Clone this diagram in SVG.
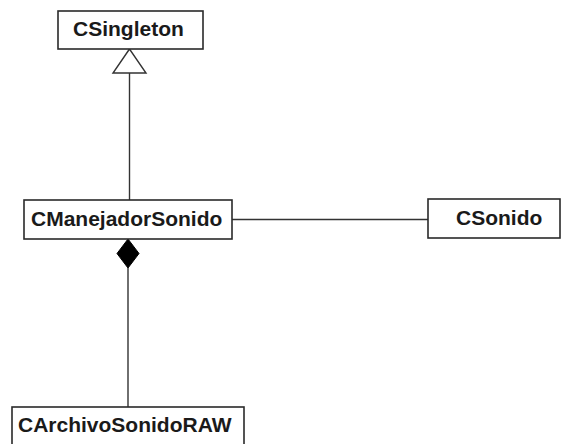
<svg xmlns="http://www.w3.org/2000/svg" width="562" height="444" viewBox="0 0 562 444">
<style>
.box{fill:#fff;stroke:#2a2a2a;stroke-width:1.6}
.lbl{font-family:"Liberation Sans",Arial,sans-serif;font-weight:bold;font-size:21px;fill:#1a1a1a}
.ln{stroke:#333;stroke-width:1.4;fill:none}
</style>
<rect width="562" height="444" fill="#fff"/>
<g id="connectors">
<line class="ln" x1="129.5" y1="73" x2="129.5" y2="200"/>
<polygon points="129.5,49 113,73 146,73" fill="#fff" stroke="#333" stroke-width="1.4"/>
<line class="ln" x1="232" y1="219.5" x2="428" y2="219.5"/>
<line class="ln" x1="128" y1="268" x2="128" y2="407"/>
<polygon points="128,239 117,253.5 128,268 139,253.5" fill="#000" stroke="#000" stroke-width="1"/>
</g>
<g id="CSingleton">
<rect class="box" x="58" y="11" width="145" height="38"/>
<text class="lbl" x="73" y="36">CSingleton</text>
</g>
<g id="CManejadorSonido">
<rect class="box" x="24" y="200" width="208" height="39"/>
<text class="lbl" x="31" y="226">CManejadorSonido</text>
</g>
<g id="CSonido">
<rect class="box" x="428" y="199" width="132" height="39"/>
<text class="lbl" x="456" y="225">CSonido</text>
</g>
<g id="CArchivoSonidoRAW">
<rect class="box" x="12" y="407" width="232" height="50"/>
<text class="lbl" x="18" y="432">CArchivoSonidoRAW</text>
</g>
</svg>
